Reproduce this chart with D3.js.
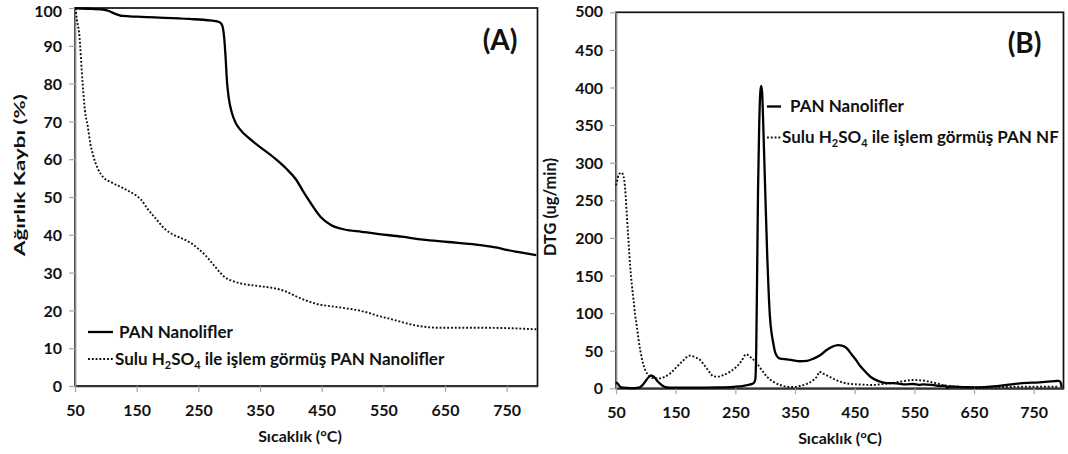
<!DOCTYPE html>
<html>
<head>
<meta charset="utf-8">
<script src="https://cdn.jsdelivr.net/npm/d3@7"></script>
<style>
  body { margin: 0; background: #fff; }
  svg text { font-family: Lato, "Open Sans", sans-serif; font-weight: 700; fill: #111; }
</style>
</head>
<body>
<svg id="chart" width="1068" height="454"></svg>
<script>
// Temperature axis ticks (°C), shared by both panels
const tempTicks = [50, 150, 250, 350, 450, 550, 650, 750];
const weightTicks = [0, 10, 20, 30, 40, 50, 60, 70, 80, 90, 100];
const dtgTicks = [0, 50, 100, 150, 200, 250, 300, 350, 400, 450, 500];

// (A) TGA — remaining weight (%) vs temperature (°C)
const tgaPan = [
  [50, 99.9], [70, 99.8], [95, 99.6], [105, 99.2], [113, 98.6], [127, 97.9], [150, 97.7],
  [180, 97.5], [235, 97.1], [269, 96.7], [282, 96.4], [287, 95.9], [290, 94.6], [292, 92],
  [294, 87.5], [296.5, 80.5], [299.5, 76], [304, 72.5], [310, 69.8], [316, 68.2], [334, 65.3],
  [347, 63.6], [375, 60.1], [392, 57.6], [409, 54.5], [420, 51.5], [431, 48.7], [448, 44.8],
  [465, 42.6], [487, 41.4], [515, 40.8], [543, 40.2], [580, 39.5], [614, 38.7], [655, 38.1],
  [711, 37.2], [735, 36.6], [750, 36.0], [770, 35.4], [798, 34.6]
];
const tgaAcid = [
  [51, 100], [53, 97], [56.7, 93.4], [62.3, 80.2], [66, 73], [70.7, 68.7], [75, 64],
  [79.5, 61], [87, 57.5], [96, 55.2], [110, 53.8], [125, 52.6], [140, 51.3], [150, 50.3],
  [157, 49.3], [168, 46.8], [180, 44.5], [196, 41.5], [210, 40], [224, 39], [240, 37.6],
  [250, 36.3], [262, 34.5], [270, 33], [280, 31], [292, 28.9], [305, 27.8], [320, 27.1],
  [350, 26.4], [375, 25.8], [392, 25], [405, 24], [414, 23.3], [430, 22.3], [442, 21.7],
  [465, 21.1], [487, 20.6], [507, 20.1], [525, 19.4], [545, 18.4], [560, 17.8], [580, 16.9],
  [600, 16.1], [615, 15.7], [640, 15.4], [670, 15.4], [710, 15.4], [740, 15.35], [770, 15.2],
  [798, 15.0]
];

// (B) DTG — derivative weight loss (ug/min) vs temperature (°C)
const dtgPan = [
  [50, 8], [53, 6], [57, 2], [62, 0.8], [75, 0.3], [88, 1], [94, 4], [100, 10], [105, 15],
  [109, 17], [114, 15], [120, 9], [127, 4], [133, 1.5], [140, 0.8], [180, 0.8], [220, 1.2],
  [247, 2], [262, 3], [270, 4.2], [277, 5.5], [281, 7], [283.5, 12], [285, 50], [286.5, 150],
  [288, 260], [290, 350], [292, 395], [293.5, 402], [295, 392], [297, 345], [300, 265],
  [303.5, 175], [306, 125], [308, 95], [311, 72], [313.6, 60], [316, 50], [319.4, 43],
  [325, 39.5], [336, 38.4], [345, 37.5], [358, 36], [370, 36.5], [381, 39.5], [392, 44],
  [403, 51], [413, 55.5], [422, 57.5], [430, 56.5], [437, 53], [445, 45], [452, 38], [459, 30],
  [468, 22], [477, 15], [490, 9.5], [503, 7], [520, 6.5], [535, 5.2], [548, 5.7], [558, 4.6],
  [565, 5.3], [580, 4.5], [593, 3.2], [603, 3.5], [605, 0.5], [608, 2.5], [637, 1.5],
  [660, 1.2], [682, 2.5], [705, 4.5], [727, 6.5], [760, 8], [785, 9.5], [792, 10], [795, 8],
  [797, 1]
];
const dtgAcid = [
  [50, 270], [52, 276], [54.3, 283.6], [57, 286], [60, 286.7], [62, 283], [63.8, 277],
  [66, 258], [68.3, 228], [71, 195], [73.8, 161.7], [76.5, 138], [79.4, 117.4], [82, 98],
  [85, 81.9], [88, 64], [90.6, 50.9], [95, 34], [99, 24.3], [105, 17], [112.9, 13.3],
  [122, 13.2], [132, 15.4], [142, 20.5], [152, 28.7], [162, 36.5], [173, 43.4], [182, 41.5],
  [191, 37.6], [197, 32], [202, 26.6], [208, 20], [213, 16], [220, 15.5], [230, 17.7],
  [242, 22.5], [252, 28.7], [260, 36], [268, 45.2], [276, 41], [286, 33.2], [295, 23.5],
  [303, 15.4], [313, 9], [325, 4.4], [336, 2.2], [347, 1.8], [358, 3], [370, 6], [381, 11],
  [387, 16], [391, 22], [397, 19.5], [408, 15.4], [420, 10.5], [436, 6.6], [460, 5],
  [481, 4.4], [495, 5.5], [509, 6.6], [528, 9], [548, 11], [562, 10.5], [576, 8.8], [590, 6],
  [604, 3], [630, 1.8], [660, 1.3], [690, 1.5], [715, 2], [750, 2], [770, 2], [793, 2]
];

const svg = d3.select("#chart");

// Writes "Sulu H₂SO₄ ile işlem görmüş …" with real subscripts
function acidLabel(text, tail, size) {
  const sub = Math.round(size * 0.66);
  text.append("tspan").text("Sulu H");
  text.append("tspan").attr("font-size", sub).attr("dy", 4).text("2");
  text.append("tspan").attr("dy", -4).text("SO");
  text.append("tspan").attr("font-size", sub).attr("dy", 4).text("4");
  text.append("tspan").attr("dy", -4).text(" ile işlem görmüş " + tail);
}

function drawPanel(cfg) {
  const x = d3.scaleLinear().domain([50, 800]).range([cfg.left, cfg.right]);
  const y = d3.scaleLinear().domain([0, cfg.yMax]).range([cfg.bottom, cfg.top]);
  const g = svg.append("g");

  // plot frame
  g.append("rect")
    .attr("x", cfg.left).attr("y", cfg.top)
    .attr("width", cfg.right - cfg.left).attr("height", cfg.bottom - cfg.top)
    .attr("fill", "none").attr("stroke", "#111").attr("stroke-width", 1.7);

  // x axis
  const xa = g.append("g").attr("transform", `translate(0,${cfg.bottom})`)
    .call(d3.axisBottom(x).tickValues(tempTicks).tickSize(6).tickSizeOuter(0).tickFormat(d3.format("d")));
  xa.select(".domain").attr("stroke", "#333").attr("stroke-width", 1.7);
  xa.selectAll(".tick line").attr("stroke", "#a6a6a6").attr("stroke-width", 1.2);
  xa.selectAll(".tick text").attr("y", 24).attr("dy", "0.35em")
    .attr("font-size", 16).attr("fill", "#111");

  // y axis
  const ya = g.append("g").attr("transform", `translate(${cfg.left},0)`)
    .call(d3.axisLeft(y).tickValues(cfg.yTicks).tickSize(6).tickSizeOuter(0).tickFormat(d3.format("d")));
  ya.select(".domain").attr("stroke", "#8c8c8c").attr("stroke-width", 1.7);
  ya.selectAll(".tick line").attr("stroke", "#a6a6a6").attr("stroke-width", 1.2);
  ya.selectAll(".tick text").attr("x", -13).attr("dy", "0.35em")
    .attr("font-size", 16).attr("fill", "#111");
  // keep the top label inside the page when the frame sits close to the edge
  ya.selectAll(".tick text")
    .filter(d => y(d) < 14)
    .attr("dy", `${16 - y(cfg.yMax)}px`);

  // axis titles
  g.append("text")
    .attr("x", cfg.xTitleX).attr("y", cfg.xTitleY).attr("dy", "0.35em")
    .attr("text-anchor", "middle").attr("font-size", 16)
    .text("Sıcaklık (°C)");
  g.append("text")
    .attr("transform", `translate(${cfg.yTitleX},${cfg.yTitleY}) rotate(-90)`)
    .attr("dy", "0.35em").attr("text-anchor", "middle").attr("font-size", cfg.yTitleSize)
    .attr("textLength", cfg.yTitleLen).attr("lengthAdjust", "spacingAndGlyphs")
    .text(cfg.yTitle);

  // curves
  const line = d3.line().x(d => x(d[0])).y(d => y(d[1])).curve(d3.curveMonotoneX);
  g.append("path").datum(cfg.acid).attr("d", line)
    .attr("fill", "none").attr("stroke", "#111").attr("stroke-width", 1.9)
    .attr("stroke-dasharray", "1.9,1.9");
  g.append("path").datum(cfg.pan).attr("d", line)
    .attr("fill", "none").attr("stroke", "#000").attr("stroke-width", 2.3)
    .attr("stroke-linejoin", "round");

  // panel letter
  g.append("text")
    .attr("x", cfg.right - cfg.letterGap).attr("y", cfg.letterY).attr("dy", "0.35em")
    .attr("text-anchor", "end").attr("font-size", 28)
    .text(cfg.letter);

  // legend
  const L = cfg.legend;
  g.append("line").attr("x1", L.x1).attr("x2", L.x2).attr("y1", L.y1).attr("y2", L.y1)
    .attr("stroke", "#000").attr("stroke-width", 2.3);
  g.append("text").attr("x", L.t1).attr("y", L.y1).attr("dy", "0.35em")
    .attr("font-size", 17).text("PAN Nanolifler");
  g.append("line").attr("x1", L.x1).attr("x2", L.x2).attr("y1", L.y2).attr("y2", L.y2)
    .attr("stroke", "#111").attr("stroke-width", 1.9).attr("stroke-dasharray", "1.9,1.9");
  const t2 = g.append("text").attr("x", L.t2).attr("y", L.y2).attr("dy", "0.35em")
    .attr("font-size", 17);
  acidLabel(t2, L.tail, 17);
}

drawPanel({
  left: 75, right: 537.5, top: 8, bottom: 386, yMax: 100, yTicks: weightTicks,
  pan: tgaPan, acid: tgaAcid, letter: "(A)", letterY: 40, letterGap: 20,
  yTitle: "Ağırlık Kaybı (%)", yTitleX: 19, yTitleY: 175, yTitleLen: 162, yTitleSize: 16,
  xTitleX: 300, xTitleY: 436,
  legend: { x1: 88, x2: 113, y1: 332, y2: 359, t1: 119, t2: 115, tail: "PAN Nanolifler" }
});

drawPanel({
  left: 616, right: 1063.5, top: 12.3, bottom: 388.3, yMax: 500, yTicks: dtgTicks,
  pan: dtgPan, acid: dtgAcid, letter: "(B)", letterY: 43, letterGap: 22,
  yTitle: "DTG (ug/min)", yTitleX: 550, yTitleY: 207, yTitleLen: 98, yTitleSize: 17,
  xTitleX: 840, xTitleY: 438,
  legend: { x1: 767, x2: 781, y1: 106.5, y2: 137.5, t1: 790, t2: 782, tail: "PAN NF" }
});
</script>
</body>
</html>
